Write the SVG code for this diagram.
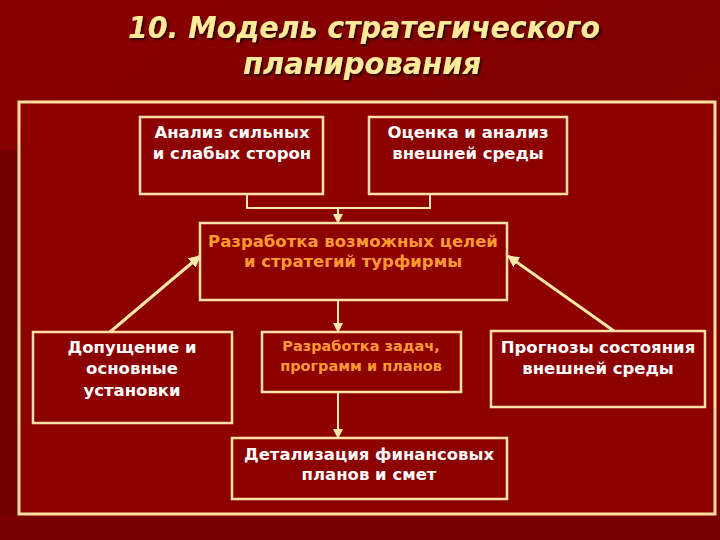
<svg xmlns="http://www.w3.org/2000/svg" width="720" height="540" viewBox="0 0 720 540">
<defs>
<linearGradient id="bg" x1="0" y1="0" x2="1" y2="1">
<stop offset="0" stop-color="#8a0000"/>
<stop offset="1" stop-color="#7a0000"/>
</linearGradient>
<filter id="sh" x="-10%" y="-30%" width="120%" height="160%">
<feDropShadow dx="2" dy="2" stdDeviation="0.8" flood-color="#2a0000" flood-opacity="0.9"/>
</filter>
<marker id="ah" viewBox="0 0 10 10" refX="9" refY="5" markerWidth="4" markerHeight="4" orient="auto" markerUnits="strokeWidth">
<path d="M0,0 L10,5 L0,10 z" fill="#ffe7a8"/>
</marker>
<marker id="ahs" viewBox="0 0 10 10" refX="9" refY="5" markerWidth="5" markerHeight="5" orient="auto" markerUnits="strokeWidth">
<path d="M0,0 L10,5 L0,10 z" fill="#ffe7a8"/>
</marker>
</defs>
<style>
.box{fill:#8c0000;stroke:#ffe0a8;stroke-width:2.5}
.t{font-family:"DejaVu Sans","Liberation Sans",sans-serif;font-weight:bold;font-size:16.5px;fill:#ffffff;text-anchor:middle}
.o{fill:#ff9a33}
.s{font-size:14.5px}
.title{font-family:"DejaVu Sans","Liberation Sans",sans-serif;font-weight:bold;font-style:italic;font-size:30px;fill:#ffea9a;text-anchor:middle;filter:url(#sh)}
.ln{stroke:#ffe7a8;fill:none}
</style>
<rect x="0" y="0" width="720" height="540" fill="url(#bg)"/>
<rect x="0" y="150" width="18" height="390" fill="#720000"/>
<rect x="0" y="515" width="720" height="25" fill="#780000"/>
<g id="title">
<text class="title" x="364" y="38" textLength="472" lengthAdjust="spacingAndGlyphs">10. Модель стратегического</text>
<text class="title" x="362" y="74" textLength="238" lengthAdjust="spacingAndGlyphs">планирования</text>
</g>
<rect x="19" y="102" width="696" height="412" fill="#8c0000" stroke="#ffe0a0" stroke-width="3"/>
<g id="connectors">
<polyline class="ln" stroke-width="2" points="247,194 247,208 430,208 430,194"/>
<line class="ln" stroke-width="2" x1="338" y1="208" x2="338" y2="223" marker-end="url(#ahs)"/>
<line class="ln" stroke-width="2" x1="338" y1="300" x2="338" y2="332" marker-end="url(#ahs)"/>
<line class="ln" stroke-width="2" x1="338" y1="392" x2="338" y2="438" marker-end="url(#ahs)"/>
<line class="ln" stroke-width="3" x1="110" y1="332" x2="200" y2="256" marker-end="url(#ah)"/>
<line class="ln" stroke-width="3" x1="614" y1="331" x2="508" y2="256" marker-end="url(#ah)"/>
</g>
<g id="n1">
<rect class="box" x="140" y="117" width="183" height="77"/>
<text class="t" x="232" y="138">Анализ сильных</text>
<text class="t" x="232" y="159">и слабых сторон</text>
</g>
<g id="n2">
<rect class="box" x="369" y="117" width="198" height="77"/>
<text class="t" x="468" y="138">Оценка и анализ</text>
<text class="t" x="468" y="159">внешней среды</text>
</g>
<g id="n3">
<rect class="box" x="200" y="223" width="307" height="77"/>
<text class="t o" x="353" y="247">Разработка возможных целей</text>
<text class="t o" x="353" y="267">и стратегий турфирмы</text>
</g>
<g id="n4">
<rect class="box" x="33" y="332" width="199" height="91"/>
<text class="t" x="132" y="353">Допущение и</text>
<text class="t" x="132" y="374">основные</text>
<text class="t" x="132" y="396">установки</text>
</g>
<g id="n5">
<rect class="box" x="262" y="332" width="199" height="60"/>
<text class="t o s" x="361" y="351">Разработка задач,</text>
<text class="t o s" x="361" y="371">программ и планов</text>
</g>
<g id="n6">
<rect class="box" x="491" y="331" width="214" height="76"/>
<text class="t" x="598" y="353">Прогнозы состояния</text>
<text class="t" x="598" y="374">внешней среды</text>
</g>
<g id="n7">
<rect class="box" x="232" y="438" width="275" height="61"/>
<text class="t" x="369" y="460">Детализация финансовых</text>
<text class="t" x="369" y="480">планов и смет</text>
</g>
</svg>
